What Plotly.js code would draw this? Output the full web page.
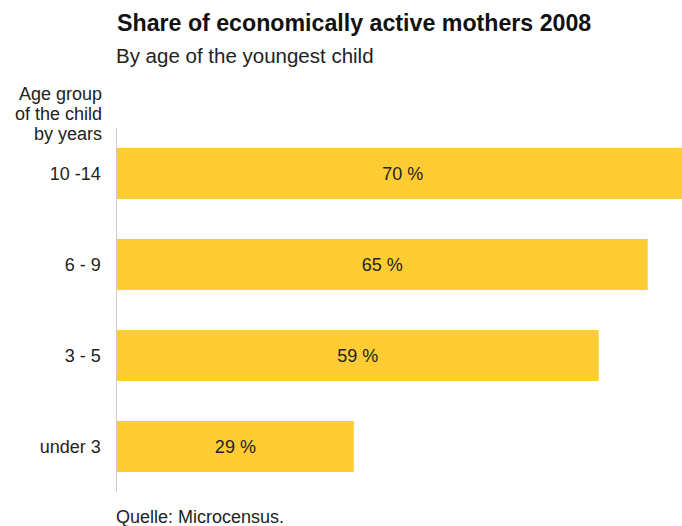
<!DOCTYPE html>
<html>
<head>
<meta charset="utf-8">
<script src="https://cdn.plot.ly/plotly-3.0.1.min.js"></script>
<style>html,body{margin:0;padding:0;background:#fff;}#chart{width:682px;height:526px;}</style>
</head>
<body>
<div id="chart"></div>
<script>
const categories = ["10 -14", "6 - 9", "3 - 5", "under 3"];
const shares = [70, 65, 59, 29];
const yAxisLabelLines = ["Age group", "of the child", "by years"];
const titleText = "Share of economically active mothers 2008";
const subtitleText = "By age of the youngest child";
const sourceText = "Quelle: Microcensus.";

const FONT = '"Liberation Sans", Arial, Helvetica, sans-serif';
const TXT = '#222222';

const trace = {
  type: 'bar',
  orientation: 'h',
  x: shares,
  y: categories,
  width: 0.56,
  marker: {color: '#ffcc33', line: {width: 0}},
  texttemplate: '%{x} %',
  textposition: 'inside',
  insidetextanchor: 'middle',
  constraintext: 'none',
  textfont: {family: FONT, size: 18, color: TXT},
  hoverinfo: 'skip',
  cliponaxis: true
};

const lineShifts = [34, 14, -6];
const annotations = yAxisLabelLines.map((t, i) => ({
  text: t, xref: 'paper', yref: 'paper', x: 0, y: 1,
  xanchor: 'right', yanchor: 'middle', xshift: -13, yshift: lineShifts[i],
  showarrow: false, align: 'right',
  font: {family: FONT, size: 18, color: TXT}
}));
annotations.push({
  text: subtitleText, xref: 'paper', yref: 'paper', x: 0, y: 1,
  xanchor: 'left', yanchor: 'middle', xshift: -3, yshift: 73, showarrow: false,
  font: {family: FONT, size: 20.5, color: TXT}
});
annotations.push({
  text: sourceText, xref: 'paper', yref: 'paper', x: 0, y: 0,
  xanchor: 'left', yanchor: 'middle', xshift: -3, yshift: -25, showarrow: false,
  font: {family: FONT, size: 18, color: TXT}
});

const layout = {
  width: 682, height: 526,
  margin: {l: 117, r: 0, t: 128, b: 34, pad: 0},
  paper_bgcolor: '#ffffff', plot_bgcolor: '#ffffff',
  showlegend: false,
  title: {
    text: '<b>' + titleText + '</b>',
    xref: 'container', yref: 'container',
    x: 117/682, xanchor: 'left',
    y: 1 - 22.4/526, yanchor: 'middle',
    font: {family: FONT, size: 23.2, color: '#111111'}
  },
  xaxis: {
    range: [0, 69.2], showgrid: false, zeroline: false,
    showticklabels: false, ticks: '', showline: false, fixedrange: true
  },
  yaxis: {
    type: 'category', range: [3.5, -0.5],
    showgrid: false, zeroline: false,
    showline: true, linecolor: '#cccccc', linewidth: 1.5,
    ticks: '', ticklabelstandoff: 11,
    tickfont: {family: FONT, size: 18, color: TXT},
    fixedrange: true
  },
  annotations: annotations,
  bargap: 0.44
};

Plotly.newPlot('chart', [trace], layout, {displayModeBar: false, staticPlot: true});
</script>
</body>
</html>
